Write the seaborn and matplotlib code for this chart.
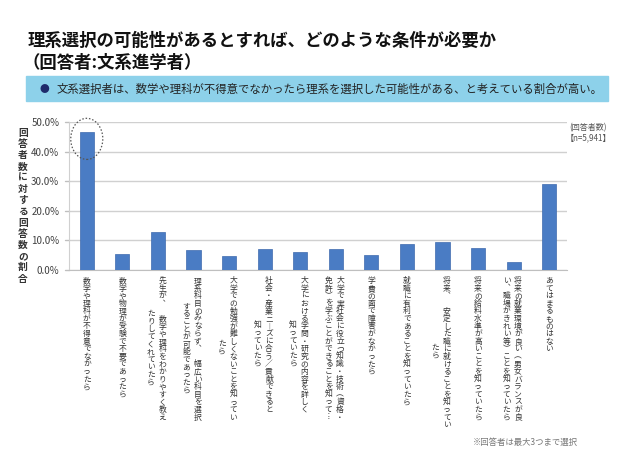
import pandas as pd
import matplotlib.pyplot as plt
import matplotlib.patches as mpatches
from matplotlib.ticker import FuncFormatter, FixedLocator
import seaborn as sns

# Data
items = [
    "数学や理科が不得意でなかったら",
    "数学や物理が受験で不要であったら",
    "先生が、　数学や理科をわかりやすく教えたりしてくれていたら",
    "理系科目のみならず、　幅広い科目を選択することが可能であったら",
    "大学での勉強が難しくないことを知っていたら",
    "社会・産業ニーズに合う／貢献できると知っていたら",
    "大学における学問・研究の内容を詳しく知っていたら",
    "大学で実社会に役立つ知識・技術（資格・免許）を学ぶことができることを知って…",
    "学費の面で障害がなかったら",
    "就職に有利であることを知っていたら",
    "将来、　安定した職に就けることを知っていたら",
    "将来の給料水準が高いことを知っていたら",
    "将来の就業環境が良い（男女バランスが良い、職場がきれい等）ことを知っていたら",
    "あてはまるものはない",
]
# how each label wraps into vertical columns (characters per column)
wrap_at = [15, 16, 19, 19, 19, 18, 18, 19, 13, 17, 20, 19, 19, 10]
shares = [46.6, 5.5, 12.7, 6.6, 4.8, 7.2, 6.0, 7.0, 5.2, 8.9, 9.4, 7.4, 2.7, 29.0]
yticks = [0, 10, 20, 30, 40, 50]

title1 = "理系選択の可能性があるとすれば、どのような条件が必要か"
title2 = "（回答者:文系進学者）"
summary = "文系選択者は、数学や理科が不得意でなかったら理系を選択した可能性がある、と考えている割合が高い。"
ylabel = "回答者数に対する回答数の割合"
n_note = "(回答者数)\n【n=5,941】"
foot = "※回答者は最大3つまで選択"

df = pd.DataFrame({"item": items, "share": shares})

sns.set_style("white")
plt.rcParams["font.family"] = ["Noto Sans CJK JP", "DejaVu Sans"]

fig = plt.figure(figsize=(6.4, 4.68), dpi=100)
ax = fig.add_axes([69 / 640, 1 - 270 / 468, 498 / 640, 148 / 468])

sns.barplot(data=df, x="item", y="share", ax=ax, color="#4A7CC4",
            width=0.4, saturation=1, edgecolor="#3F6BAE", linewidth=0.5, zorder=3)

ax.set_xlim(-0.5, len(items) - 0.5)
ax.set_ylim(0, 50)
ax.set_yticks(yticks)
ax.yaxis.set_major_formatter(FuncFormatter(lambda v, p: f"{v:.1f}%"))
ax.tick_params(axis="y", labelsize=7, colors="#404040", length=0, pad=7)
ax.set_xticks([])
ax.xaxis.set_minor_locator(FixedLocator([i - 0.5 for i in range(len(items) + 1)]))
ax.tick_params(axis="x", which="minor", length=3, color="#BFBFBF", width=0.8)
ax.grid(axis="y", color="#D0D0D0", linewidth=1, zorder=0)
ax.set_xlabel("")
ax.set_ylabel("")
for s in ["top", "right"]:
    ax.spines[s].set_visible(False)
ax.spines["left"].set_color("#D0D0D0")
ax.spines["bottom"].set_color("#BFBFBF")

# gridline stubs left of the axis
for t in yticks:
    ax.plot([-0.6, -0.5], [t, t], color="#BFBFBF", lw=1, clip_on=False)

# vertical (tategaki) category labels
vert = {"、": "︑", "（": "︵", "）": "︶", "…": "︙", "ー": "︱"}
pitch = 7.4 / 148  # axes fraction per character
top = -7 / 148
trans = ax.get_xaxis_transform()
for i, (lab, w) in enumerate(zip(items, wrap_at)):
    cols = [lab[k:k + w] for k in range(0, len(lab), w)]
    longest = max(len(c) for c in cols)
    for j, col in enumerate(cols):
        x = i + (0.12 - 0.32 * j if len(cols) > 1 else 0)
        y = top - (longest - len(col)) / 2 * pitch
        txt = "\n".join(vert.get(ch, ch) for ch in col)
        ax.text(x, y, txt, transform=trans, ha="center", va="top",
                fontsize=5.6, linespacing=0.93, color="#333333")

# dotted circle around the first bar
ax.add_patch(mpatches.Ellipse((0, 44.3), 0.9, 13.9, fill=False, ls=(0, (1.2, 1.5)),
                              ec="#555555", lw=0.9, clip_on=False, zorder=4))

# titles and summary band
fig.text(28 / 640, 1 - 41 / 468, title1, fontsize=12.5, fontweight="bold",
         va="center", color="#111111")
fig.text(22 / 640, 1 - 63 / 468, title2, fontsize=12.5, fontweight="bold",
         va="center", color="#111111")
fig.patches.append(mpatches.Rectangle((26 / 640, 1 - 101 / 468), 582 / 640, 25 / 468,
                                      transform=fig.transFigure, color="#8DD1EA", zorder=0))
fig.text(44 / 640, 1 - 89 / 468, "●", fontsize=7, color="#1F2A6B", va="center", ha="center")
fig.text(57 / 640, 1 - 89 / 468, summary, fontsize=8.2, color="#222222", va="center")

# y label, stacked vertically
fig.text(23 / 640, 1 - 128 / 468, "\n".join(ylabel), fontsize=7, fontweight="bold",
         va="top", ha="center", linespacing=1.15, color="#333333")

fig.text(588 / 640, 1 - 133 / 468, n_note, fontsize=5.8, color="#555555",
         ha="center", va="center", linespacing=1.1)
fig.text(473 / 640, 1 - 442 / 468, foot, fontsize=6, color="#777777", va="center")

plt.savefig("out.png", dpi=100)
